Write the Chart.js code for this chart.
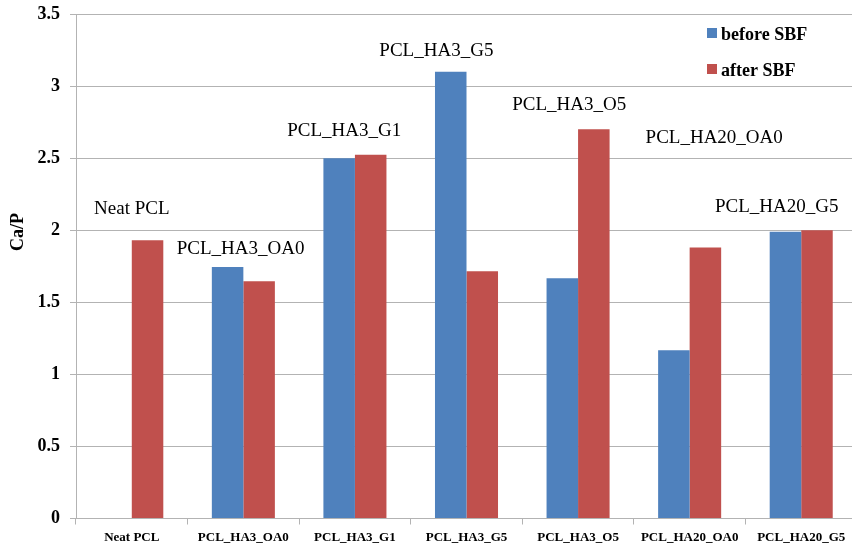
<!DOCTYPE html>
<html>
<head>
<meta charset="utf-8">
<script src="https://cdn.jsdelivr.net/npm/chart.js@4"></script>
<style>
html,body{margin:0;padding:0;background:#fff;overflow:hidden;}
#wrap{width:857px;height:550px;}
</style>
</head>
<body>
<div id="wrap"><canvas id="c" width="857" height="550"></canvas></div>
<script>
const categories = ['Neat PCL','PCL_HA3_OA0','PCL_HA3_G1','PCL_HA3_G5','PCL_HA3_O5','PCL_HA20_OA0','PCL_HA20_G5'];
const beforeSBF = [null, 1.745, 2.50, 3.10, 1.667, 1.168, 1.99];
const afterSBF  = [1.93, 1.646, 2.524, 1.715, 2.70, 1.88, 2.00];
const seriesNames = ['before SBF','after SBF'];
const noteTexts = ['Neat PCL','PCL_HA3_OA0','PCL_HA3_G1','PCL_HA3_G5','PCL_HA3_O5','PCL_HA20_OA0','PCL_HA20_G5'];
const noteValues = [2.15, 1.87, 2.69, 3.24, 2.87, 2.64, 2.16];
const yMin = 0, yMax = 3.5, yStep = 0.5;
const yTitle = 'Ca/P';

const BLUE = '#4F81BD', RED = '#C0504D', GRID = '#b3b3b3';
const serif = '"Liberation Serif","Times New Roman",serif';

// horizontal offsets of the annotation texts, in category units
const noteShift = [0, -0.025, -0.096, -0.27, -0.08, 0.22, -0.22];

const extras = {
  id: 'extras',
  afterDraw(chart) {
    const ctx = chart.ctx, xs = chart.scales.x, ys = chart.scales.y;
    const cw = xs.getPixelForValue(1) - xs.getPixelForValue(0);
    ctx.save();
    ctx.font = '19px ' + serif;
    ctx.fillStyle = '#000';
    ctx.textAlign = 'center';
    ctx.textBaseline = 'middle';
    noteTexts.forEach((t, i) => {
      const x = xs.getPixelForValue(i) + noteShift[i] * cw;
      const y = ys.getPixelForValue(noteValues[i]);
      ctx.fillText(t, x, y);
    });
    const colors = [BLUE, RED];
    ctx.font = 'bold 18px ' + serif;
    ctx.textAlign = 'left';
    ctx.textBaseline = 'alphabetic';
    seriesNames.forEach((n, i) => {
      const top = 28 + i * 36;
      ctx.fillStyle = colors[i];
      ctx.fillRect(707, top, 10, 10);
      ctx.fillStyle = '#000';
      ctx.fillText(n, 721, top + 12);
    });
    ctx.font = 'bold 18px ' + serif;
    ctx.translate(18, 232);
    ctx.rotate(-Math.PI / 2);
    ctx.textAlign = 'center';
    ctx.textBaseline = 'middle';
    ctx.fillText(yTitle, 0, 0);
    ctx.restore();
  }
};

new Chart(document.getElementById('c'), {
  type: 'bar',
  data: {
    labels: categories,
    datasets: [
      { label: seriesNames[0], data: beforeSBF, backgroundColor: BLUE, borderWidth: 0 },
      { label: seriesNames[1], data: afterSBF, backgroundColor: RED, borderWidth: 0 }
    ]
  },
  options: {
    responsive: false,
    animation: false,
    devicePixelRatio: 1,
    layout: { padding: { top: 14, right: 0, left: 0, bottom: 0 } },
    plugins: { legend: { display: false }, tooltip: { enabled: false } },
    datasets: { bar: { categoryPercentage: 0.565, barPercentage: 1.0 } },
    scales: {
      x: {
        grid: { display: true, drawOnChartArea: false, drawTicks: true, tickLength: 6, color: GRID, offset: true },
        border: { display: true, color: GRID },
        ticks: { color: '#000', font: { family: serif, size: 13, weight: 'bold' }, padding: 5, maxRotation: 0, autoSkip: false },
        afterFit(s) { s.height = 31.5; s.paddingLeft = 0; s.paddingRight = 0; }
      },
      y: {
        min: yMin, max: yMax,
        ticks: { stepSize: yStep, color: '#000', font: { family: serif, size: 18, weight: 'bold' }, padding: 10,
                 callback: v => String(v) },
        grid: { color: GRID, tickLength: 6, drawTicks: true },
        border: { display: true, color: GRID },
        afterFit(s) { s.width = 76; s.paddingTop = 0; s.paddingBottom = 0; }
      }
    }
  },
  plugins: [extras]
});
</script>
</body>
</html>
